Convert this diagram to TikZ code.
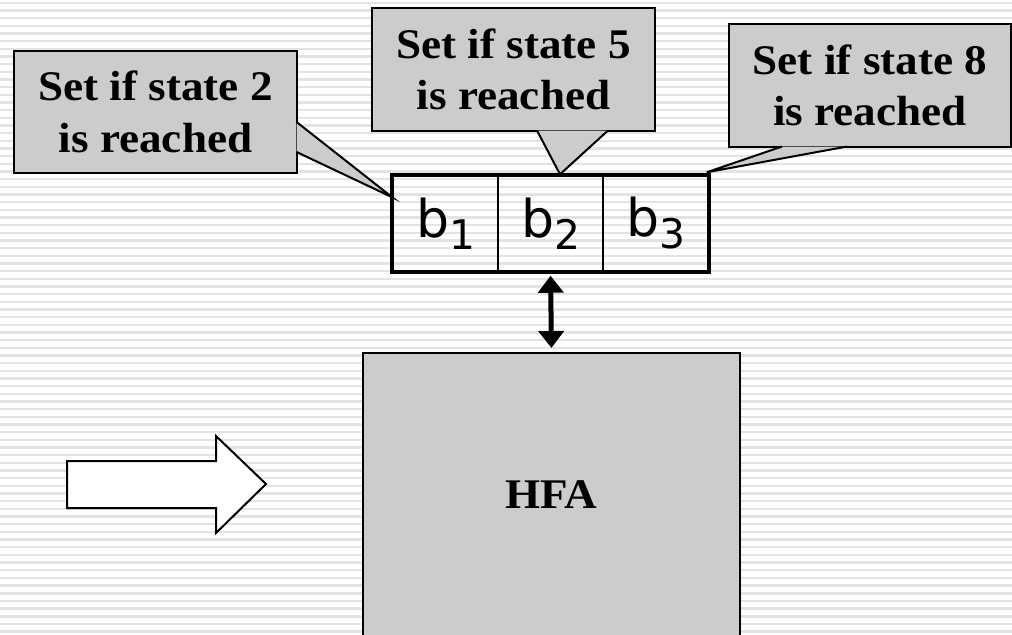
\documentclass[tikz,border=0pt]{standalone}
\usepackage{fontspec}
\setmainfont{Liberation Serif}[FakeStretch=1.07]
\newfontfamily\bitfont{DejaVu Sans}
\usetikzlibrary{arrows.meta,calc}

\tikzset{
	stripe/.style={draw=black!11, line width=0.06cm},
	callout/.style={shape=rectangle, draw, line width=0.05cm, fill=black!20, align=center, inner sep=0pt, font=\fontsize{30}{36.7}\selectfont\bfseries},
	pointer/.style={draw, line width=0.05cm, fill=black!20, line join=miter},
	bitcell/.style={shape=rectangle, draw, line width=0.035cm, minimum width=2.625cm, minimum height=2.375cm, inner sep=0pt, font=\bitfont\fontsize{37}{40}\selectfont}
}
\newcommand{\bitsub}[1]{b\raisebox{-0.3cm}{\fontsize{29}{30}\selectfont #1}}

\begin{document}
\begin{tikzpicture}[x=0.025cm, y=-0.025cm]
		% Paths, nodes and wires:
		\useasboundingbox (0,0) rectangle (1012,634);
		\fill[white] (0,0) rectangle (1012,634);
		\foreach \i in {0,...,82}
			\draw[stripe] (0,{2.7+\i*7.67}) -- (1012,{2.7+\i*7.67});
		% register bits
		\node[bitcell] (b1) at (445.5,223.5){\bitsub{1}};
		\node[bitcell] (b2) at (550.5,223.5){\bitsub{2}};
		\node[bitcell] (b3) at (655.5,223.5){\bitsub{3}};
		\draw[line width=0.1cm] (b1.north west) rectangle (b3.south east);
		% callouts
		\node[callout, minimum width=7.075cm, minimum height=3.05cm] (st2) at (155.5,112){Set if state 2\\is reached};
		\node[callout, minimum width=7.075cm, minimum height=3.075cm] (st5) at (513.5,69.5){Set if state 5\\is reached};
		\node[callout, minimum width=7.05cm, minimum height=3.075cm] (st8) at (870,85.5){Set if state 8\\is reached};
		\filldraw[pointer] ($(st2.north east)+(-1.5,72)$) -- ($(b1.north west)+(0,22)$) -- ($(st2.north east)+(-1.5,102)$);
		\filldraw[pointer] ($(st5.south)+(23.5,-1.5)$) -- ($(b2.north)+(9.5,-1)$) -- ($(st5.south)+(94.5,-1.5)$);
		\filldraw[pointer] ($(st8.south)+(-88,-1.5)$) -- ($(b3.north east)+(-2,-3)$) -- ($(st8.south)+(-23,-1.5)$);
		% automaton
		\node[shape=rectangle, draw, line width=0.05cm, fill=black!20, minimum width=9.425cm, minimum height=7.075cm, font=\fontsize{30}{36}\selectfont\bfseries] (hfa) at (551.5,494.5){HFA};
		\draw[line width=0.125cm, {Triangle[width=0.625cm,length=0.425cm]}-{Triangle[width=0.625cm,length=0.425cm]}, shorten <=0.1cm, shorten >=0.1cm] (b2.south) -- (hfa.north);
		% input arrow
		\draw[line width=0.05cm, fill=white, line join=miter] (67,461) -- (216,461) -- (216,436) -- (266,484) -- (216,533) -- (216,508) -- (67,508) -- cycle;
	\end{tikzpicture}
\end{document}
